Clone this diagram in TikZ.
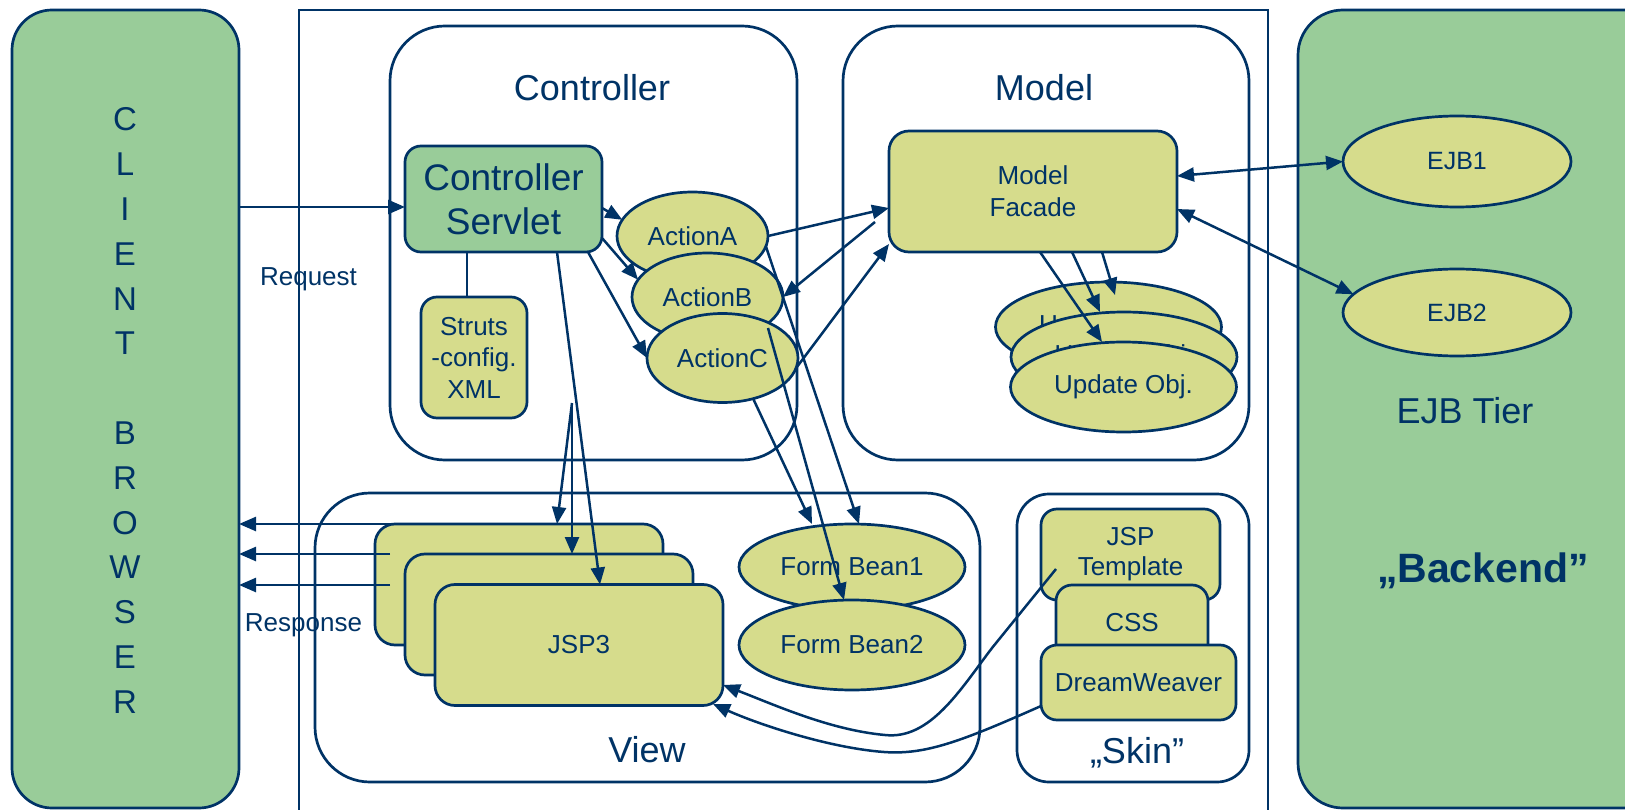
\documentclass[tikz,border=0pt]{standalone}
\usepackage{fontspec}
\setmainfont{Liberation Sans}
\usetikzlibrary{arrows.meta,shapes.geometric}
\definecolor{navy}{RGB}{0,51,102}
\definecolor{tiergreen}{RGB}{153,204,153}
\definecolor{olivefill}{RGB}{214,220,140}
\tikzset{
  ln/.style={draw=navy, line width=2.7pt},
  region/.style={ln, rounded corners=55pt, inner sep=0pt, outer sep=0pt},
  tier/.style={ln, fill=tiergreen, rounded corners=40pt, inner sep=0pt, outer sep=0pt},
  obox/.style={ln, fill=olivefill, rounded corners=16pt, inner sep=0pt, outer sep=0pt, align=center, text=navy, font=\fontsize{26}{31}\selectfont},
  gbox/.style={ln, fill=tiergreen, rounded corners=16pt, inner sep=0pt, outer sep=0pt, align=center, text=navy},
  oell/.style={ln, fill=olivefill, ellipse, inner sep=0pt, outer sep=0pt, text=navy, font=\fontsize{26}{31}\selectfont},
  lbl/.style={text=navy, inner sep=0pt, font=\fontsize{26}{31}\selectfont},
  title/.style={text=navy, inner sep=0pt, font=\fontsize{36}{43}\selectfont},
  arr/.style={draw=navy, line width=2.5pt, -{Triangle[length=17pt,width=14pt]}},
  dbl/.style={draw=navy, line width=2.5pt, {Triangle[length=17pt,width=14pt]}-{Triangle[length=17pt,width=14pt]}},
  plain/.style={draw=navy, line width=2.5pt},
}
\begin{document}
\begin{tikzpicture}[x=1pt,y=-1pt]
\useasboundingbox (0,0) rectangle (1625,810);
\clip (0,0) rectangle (1625,810);
% side tiers
\node[tier, minimum width=227pt, minimum height=798pt] (client) at (125.5,409) {};
\node[lbl, font=\fontsize{33}{44.8}\selectfont, align=center] (clienttext) at (125,410.5) {C\\L\\I\\E\\N\\T\\[44.8pt]B\\R\\O\\W\\S\\E\\R};
\node[tier, rounded corners=45pt, minimum width=380pt, minimum height=798pt] (ejbtier) at (1488,409) {};
% outer frame
\draw[ln] (299,820) -- (299,10) -- (1268,10) -- (1268,820);
% regions
\node[region, minimum width=407pt, minimum height=434pt] (ctrl) at (593.5,243) {};
\node[region, minimum width=406pt, minimum height=434pt] (model) at (1046,243) {};
\node[region, minimum width=665pt, minimum height=289pt] (view) at (647.5,637.5) {};
\node[region, rounded corners=32pt, minimum width=232pt, minimum height=288pt] (skin) at (1133,638) {};
\node[title] (ctrltitle) at (592,88) {Controller};
\node[title] (modeltitle) at (1044,88) {Model};
\node[title] (viewtitle) at (647,750) {View};
\node[title] (skintitle) at (1137,753) {„Skin”};
% controller
\node[gbox, minimum width=197pt, minimum height=106pt, font=\fontsize{37}{44}\selectfont] (servlet) at (503.5,199) {Controller\\Servlet};
\node[obox, minimum width=106pt, minimum height=121pt, font=\fontsize{26}{31.5}\selectfont] (struts) at (474,357.5) {Struts\\-config.\\XML};
\node[oell, minimum width=151pt, minimum height=88pt] (acta) at (692.5,236) {ActionA};
\node[oell, minimum width=151pt, minimum height=88pt] (actb) at (707.5,297) {ActionB};
\node[oell, minimum width=151pt, minimum height=89pt] (actc) at (722.5,358) {ActionC};
% model
\node[obox, rounded corners=20pt, minimum width=288pt, minimum height=121pt, font=\fontsize{26}{32}\selectfont] (facade) at (1033,191.5) {Model\\Facade};
\node[oell, minimum width=226pt, minimum height=90pt] (uo1) at (1108.5,327) {Update Obj.};
\node[oell, minimum width=226pt, minimum height=90pt] (uo2) at (1124,357) {Update Obj.};
\node[oell, minimum width=226pt, minimum height=90pt] (uo3) at (1123.5,387) {Update Obj.};
% view
\node[obox, rounded corners=20pt, minimum width=288pt, minimum height=121pt] (jsp1) at (519,584.5) {};
\node[obox, rounded corners=20pt, minimum width=288pt, minimum height=121pt] (jsp2) at (549,614.5) {};
\node[obox, rounded corners=20pt, minimum width=288pt, minimum height=121pt] (jsp3) at (579,645) {JSP3};
\node[oell, minimum width=226pt, minimum height=86pt] (bean1) at (852,567) {Form Bean1};
\node[oell, minimum width=226pt, minimum height=90pt] (bean2) at (852,645) {Form Bean2};
% skin
\node[obox, minimum width=179pt, minimum height=91pt, font=\fontsize{26}{30}\selectfont] (tpl) at (1130.5,554.5) {JSP\\Template};
\node[obox, minimum width=152pt, minimum height=75pt] (css) at (1132,622.5) {CSS};
\node[obox, minimum width=195pt, minimum height=75pt] (dw) at (1138.5,682.5) {DreamWeaver};
% EJB tier
\node[oell, minimum width=228pt, minimum height=91pt, font=\fontsize{25}{30}\selectfont] (ejb1) at (1457,161.5) {EJB1};
\node[oell, minimum width=228pt, minimum height=87pt, font=\fontsize{25}{30}\selectfont] (ejb2) at (1457,312.5) {EJB2};
\node[title] (ejbtiertxt) at (1465,411) {EJB Tier};
\node[title, font=\fontsize{41}{49}\selectfont\bfseries] (backend) at (1483,571) {„Backend”};
% labels
\node[lbl] (reqlbl) at (308.5,279) {Request};
\node[lbl] (resplbl) at (303.5,625) {Response};
% coordinates for free ends
\coordinate (r1) at (393,524);
\coordinate (r2) at (390,554);
\coordinate (r3) at (390,585);
\coordinate (fork) at (572,403);
\coordinate (fbstart) at (875,222);
\coordinate (bstart) at (768,328);
\coordinate (uo1tip) at (1115,295);
\coordinate (tplstart) at (1056,569);
\coordinate (dwend) at (713,704);
% connectors
\draw[arr] (client.east |- 0,207) -- (servlet.west |- 0,207);
\draw[arr] (r1) -- (client.east |- r1);
\draw[arr] (r2) -- (client.east |- r2);
\draw[arr] (r3) -- (client.east |- r3);
\draw[plain] (servlet.south -| 467,0) -- (struts.north -| 467,0);
\draw[arr] (servlet.east |- 0,208) -- (acta.167);
\draw[arr] (servlet.east |- 0,238) -- (actb.166);
\draw[arr] (servlet.south -| 588,0) -- (actc.west);
\draw[arr] (servlet.south -| 557,0) -- (jsp3.north -| 600,0);
\draw[arr] (fork) -- (jsp1.north -| 557,0);
\draw[arr] (fork) -- (jsp2.north -| 572,0);
\draw[arr] (acta.east) -- (facade.west |- 0,208);
\draw[arr] (fbstart) -- (actb.east);
\draw[arr] (actc.-8) -- (facade.west |- 0,244);
\draw[arr] (acta.-8) -- (bean1.north -| 859,0);
\draw[arr] (bstart) -- (bean2.north -| 844,0);
\draw[arr] (actc.-53) -- (bean1.north -| 812,0);
\draw[arr] (facade.south -| 1040,0) -- (uo3.north -| 1102,0);
\draw[arr] (facade.south -| 1072,0) -- (uo2.north -| 1100,0);
\draw[arr] (facade.south -| 1102,0) -- (uo1tip);
\draw[dbl] (facade.east |- 0,176) -- (ejb1.west);
\draw[dbl] (facade.east |- 0,209) -- (ejb2.170);
\draw[arr] (tplstart) -- (992,648) .. controls (960,690) and (930,740) .. (885,735) .. controls (830,730) and (775,705) .. (jsp3.east |- 0,685);
\draw[arr] (dw.west |- 0,706) .. controls (960,742) and (925,755) .. (884,752) .. controls (830,748) and (760,725) .. (dwend);
\end{tikzpicture}
\end{document}
